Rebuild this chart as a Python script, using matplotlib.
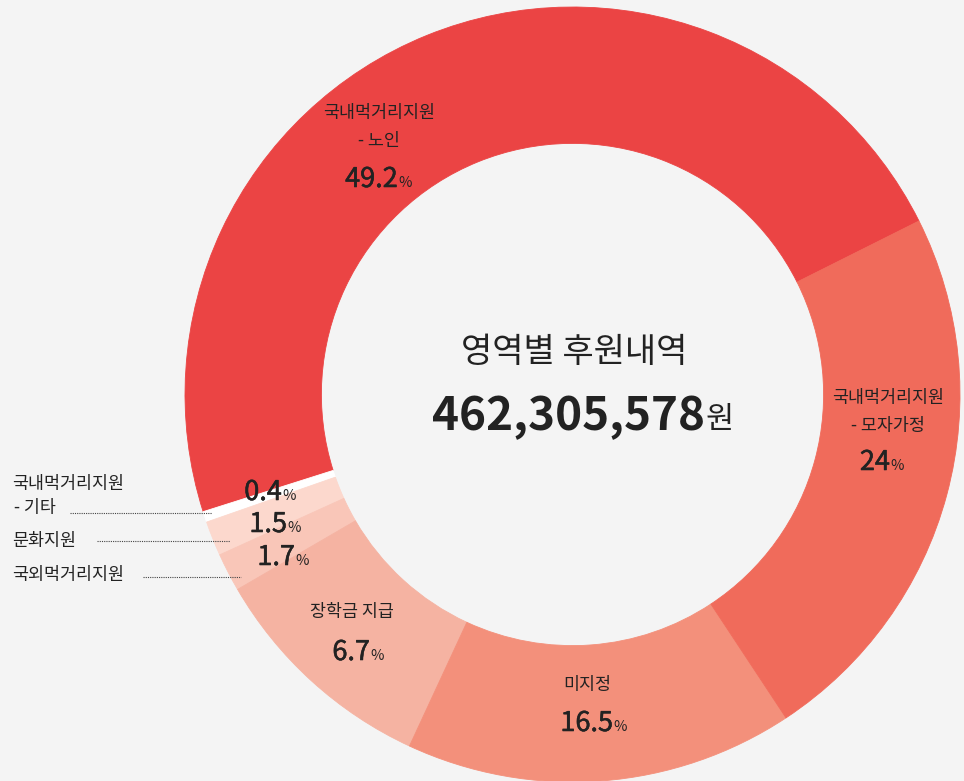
import matplotlib.pyplot as plt
import matplotlib.patheffects as pe

# slice shares as drawn in the picture (counterclockwise from the right)
categories = ["국내먹거리지원\n- 노인", "국내먹거리지원\n- 기타", "문화지원",
              "국외먹거리지원", "장학금 지급", "미지정", "국내먹거리지원\n- 모자가정"]
drawn_share = [47.5, 0.45, 1.45, 1.6, 9.7, 16.2, 23.1]
pct_labels = ["49.2", "0.4", "1.5", "1.7", "6.7", "16.5", "24"]
colors = ["#EB4444", "#FFFFFF", "#FCD8CD", "#F9C6B8", "#F5B3A2", "#F3907B", "#F06B5B"]

title = "영역별 후원내역"
total = "462,305,578"

W, H = 964, 781
CX, CY, R = 572.5, 394.5, 387.5
BG = "#F4F4F4"
TXT = "#222222"

plt.rcParams["font.family"] = ["Noto Sans CJK KR", "DejaVu Sans"]


def fx(x, y):
    return x / W, 1 - y / H


fig = plt.figure(figsize=(W / 100, H / 100), dpi=100, facecolor=BG)
ax = fig.add_axes([(CX - R) / W, (H - CY - R) / H, 2 * R / W, 2 * R / H])
ax.set_facecolor(BG)
wedges, _ = ax.pie(drawn_share, colors=colors, startangle=26.6, counterclock=True,
                   radius=1, wedgeprops=dict(width=0.352))
for w, c in zip(wedges, colors):
    w.set_edgecolor(c)
    w.set_linewidth(0.6)
ax.set_xlim(-1, 1)
ax.set_ylim(-1, 1)
ax.axis("off")

# category names inside the ring
name_pos = {0: (379, 113), 4: (352, 612), 5: (587, 685), 6: (888, 398)}
for i, (x, y) in name_pos.items():
    lines = categories[i].split("\n")
    for k, line in enumerate(lines):
        fig.text(*fx(x, y + k * 28), line, ha="center", va="center",
                 fontsize=12.5, color=TXT)

# percentage values: number right-aligned at anchor, "%" after it
medium = [pe.withStroke(linewidth=0.4, foreground=TXT)]
pct_anchor = [(398, 187), (282, 500), (287, 532), (295, 565),
              (370, 660), (613, 731), (890, 470)]
for lab, (x, y) in zip(pct_labels, pct_anchor):
    fig.text(*fx(x, y), lab, ha="right", va="baseline", fontsize=19.5,
             color=TXT, path_effects=medium)
    fig.text(*fx(x, y), "%", ha="left", va="baseline", fontsize=10.5,
             color=TXT)

# small slices: names on the left with dotted leaders
left_names = [(1, [(484, 12), (508, 14)], (70, 212, 513)),
              (2, [(541, 12)], (97, 230, 541)),
              (3, [(575, 12)], (143, 241, 577))]
for i, rows, (x0, x1, ly) in left_names:
    for (y, x), line in zip(rows, categories[i].split("\n")):
        fig.text(*fx(x, y), line, ha="left", va="center", fontsize=12.5, color=TXT)
    fig.add_artist(plt.Line2D([x0 / W, x1 / W], [1 - ly / H, 1 - ly / H],
                              color="#444444", lw=0.8, linestyle=(0, (1, 1))))

# centre text
fig.text(*fx(574, 352), title, ha="center", va="center", fontsize=24.5, color=TXT)
fig.text(*fx(705, 430), total, ha="right", va="baseline", fontsize=33,
         fontweight="bold", color=TXT)
fig.text(*fx(706, 428), "원", ha="left", va="baseline", fontsize=22, color=TXT)

fig.savefig("out.png", dpi=100, facecolor=BG)
